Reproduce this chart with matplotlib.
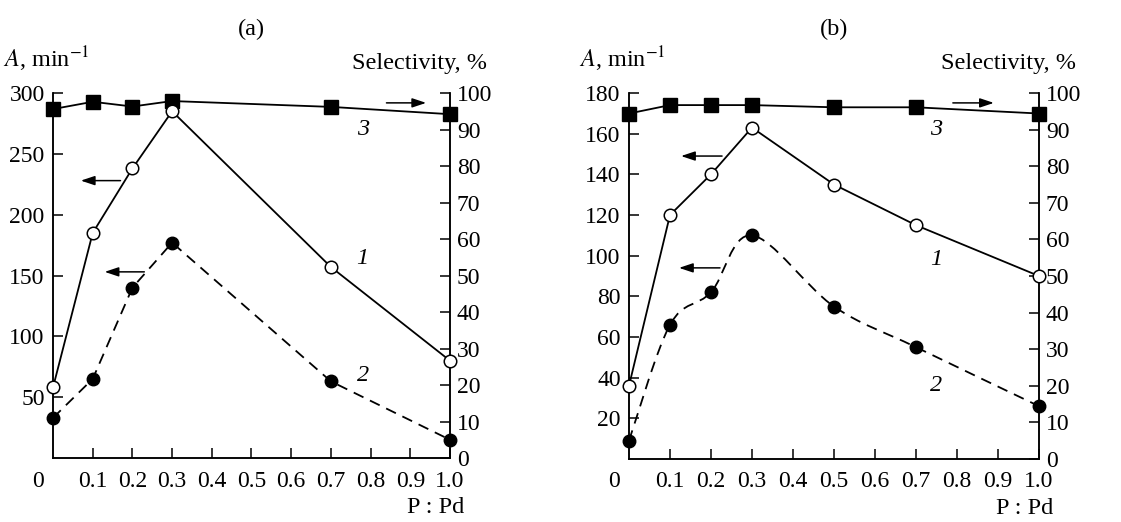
import numpy as np
import matplotlib
matplotlib.use("Agg")
import matplotlib.pyplot as plt
from matplotlib.path import Path
from matplotlib.patches import PathPatch

plt.rcParams['font.family'] = ['Liberation Serif', 'DejaVu Serif']
plt.rcParams['mathtext.fontset'] = 'stix'
FS = 17
LFS = 17.5

# panel (a)
x_a = [0.0, 0.1, 0.2, 0.3, 0.7, 1.0]
act1_a = [58, 185, 238, 285, 157, 80]
act2_a = [33, 65, 140, 177, 63, 15]
sel_a = [95.6, 97.6, 96.3, 97.8, 96.2, 94.2]

# panel (b)
x_b = [0.0, 0.1, 0.2, 0.3, 0.5, 0.7, 1.0]
act1_b = [36, 120, 140, 163, 135, 115, 90]
act2_b = [9, 66, 82, 110, 75, 55, 26]
sel_b = [94.4, 96.7, 96.7, 96.7, 96.1, 96.1, 94.4]

xticks = [0.1, 0.2, 0.3, 0.4, 0.5, 0.6, 0.7, 0.8, 0.9, 1.0]
xticklabels = ['0.1', '0.2', '0.3', '0.4', '0.5', '0.6', '0.7', '0.8', '0.9', '1.0']
right_ticks = list(range(0, 101, 10))


def smooth_path(x, y, ax):
    # Catmull-Rom through the points, drawn as cubic bezier segments
    pts = np.column_stack([x, y]).astype(float)
    verts = [pts[0]]
    codes = [Path.MOVETO]
    n = len(pts)
    for i in range(n - 1):
        p0 = pts[i - 1] if i > 0 else pts[i]
        p1 = pts[i]
        p2 = pts[i + 1]
        p3 = pts[i + 2] if i + 2 < n else pts[i + 1]
        c1 = p1 + (p2 - p0) / 6.0
        c2 = p2 - (p3 - p1) / 6.0
        verts += [c1, c2, p2]
        codes += [Path.CURVE4] * 3
    patch = PathPatch(Path(verts, codes), fill=False, lw=1.3, ls=(0, (6, 4)),
                      color='black', zorder=2)
    ax.add_patch(patch)


def panel(ax, x, a1, a2, sel, ymax, yticks, title, smooth2, arrows, labels):
    ax.set_xlim(0, 1.0)
    ax.set_ylim(0, ymax)
    ax.plot(x, a1, '-', color='black', lw=1.3, marker='o', ms=9,
            mfc='white', mec='black', mew=1.1, zorder=3)
    if smooth2:
        smooth_path(x, a2, ax)
        ax.plot(x, a2, 'o', color='black', ms=9, zorder=3)
    else:
        ax.plot(x, a2, color='black', lw=1.3, ls=(0, (6, 4)), marker='o',
                ms=9, zorder=3)
    ax2 = ax.twinx()
    ax2.set_ylim(0, 100)
    ax2.plot(x, sel, '-', color='black', lw=1.3, marker='s', ms=9.5,
             clip_on=False, zorder=3)
    ax.set_zorder(ax2.get_zorder() + 1)
    ax.patch.set_visible(False)

    for a in (ax, ax2):
        a.spines['top'].set_visible(False)
        for s in a.spines.values():
            s.set_linewidth(1.1)
    ax.set_xticks(xticks)
    ax.set_xticklabels(xticklabels)
    ax.set_yticks(yticks)
    ax2.set_yticks(right_ticks)
    ax.tick_params(axis='x', direction='in', length=7, width=1.1, pad=9,
                   labelsize=FS)
    ax.tick_params(axis='y', direction='in', length=7, width=1.1, pad=6,
                   labelsize=FS)
    ax2.tick_params(axis='y', direction='in', length=7, width=1.1, pad=5,
                    labelsize=FS)
    for ln in ax.get_lines():
        ln.set_clip_on(False)

    ax.annotate('0', xy=(0, 0), xycoords='axes fraction', xytext=(-11, -9),
                textcoords='offset points', ha='center', va='top', fontsize=FS)
    ax.annotate('P : Pd', xy=(1, 0), xycoords='axes fraction', xytext=(10, -28),
                textcoords='offset points', ha='right', va='top', fontsize=LFS)
    ax.annotate('$\\it{A}$, min$^{-1}$', xy=(0, 1), xycoords='axes fraction',
                xytext=(-36, 14), textcoords='offset points', ha='left',
                va='bottom', fontsize=LFS)
    ax.annotate('Selectivity, %', xy=(1, 1), xycoords='axes fraction',
                xytext=(27, 14), textcoords='offset points', ha='right',
                va='bottom', fontsize=LFS)
    ax.set_title(title, fontsize=LFS, pad=42)

    for (x0, y0, x1, y1, tr) in arrows:
        a = ax if tr == 'l' else ax2
        a.annotate('', xy=(x1, y1), xytext=(x0, y0),
                   arrowprops=dict(arrowstyle='-|>,head_length=0.6,head_width=0.2',
                                   color='black', lw=1.1,
                                   mutation_scale=14, shrinkA=0, shrinkB=0))
    for (tx, ty, t) in labels:
        ax.text(tx, ty, t, fontsize=LFS, style='italic', ha='center',
                va='center')
    return ax2


fig = plt.figure(figsize=(11.21, 5.22), dpi=100)
ax_a = fig.add_axes([0.0473, 0.1226, 0.3541, 0.6992])
ax_b = fig.add_axes([0.5611, 0.1207, 0.3657, 0.7011])

panel(ax_a, x_a, act1_a, act2_a, sel_a, 300, [50, 100, 150, 200, 250, 300],
      '(a)', False,
      [(0.17, 228, 0.07, 228, 'l'), (0.23, 153, 0.13, 153, 'l'),
       (0.84, 97.3, 0.94, 97.3, 'r')],
      [(0.78, 270, '3'), (0.78, 164, '1'), (0.78, 68, '2')])

panel(ax_b, x_b, act1_b, act2_b, sel_b, 180, [20, 40, 60, 80, 100, 120, 140, 160, 180],
      '(b)', True,
      [(0.227, 149, 0.127, 149, 'l'), (0.222, 94, 0.122, 94, 'l'),
       (0.79, 97.3, 0.89, 97.3, 'r')],
      [(0.75, 162, '3'), (0.75, 98, '1'), (0.75, 36, '2')])

fig.savefig('out.png', dpi=100)
